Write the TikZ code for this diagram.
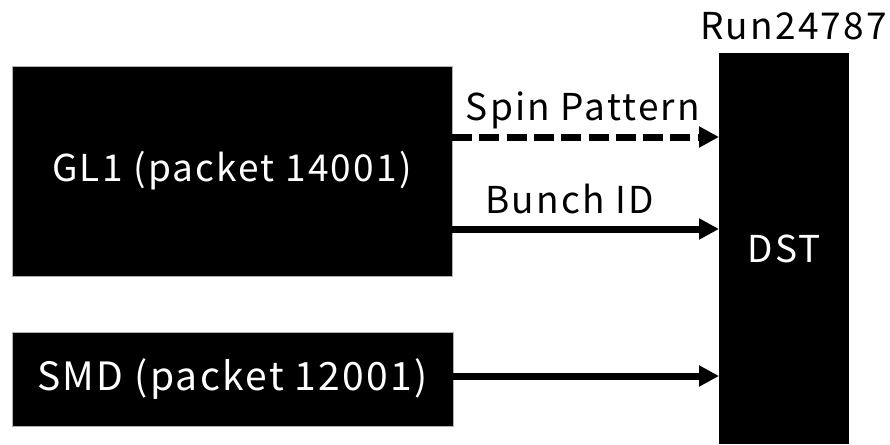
\documentclass[tikz,border=0pt]{standalone}
\usepackage{fontspec}
\setmainfont{Noto Sans CJK JP}[LetterSpace=6]
\usetikzlibrary{arrows.meta,calc}
\tikzset{
  blackbox/.style={fill=black, draw=gray!60, line width=0.8pt, inner sep=0pt, outer sep=0pt, text=white, font=\fontsize{37}{44}\selectfont},
  arr/.style={line width=7pt, -{Triangle[length=20pt,width=20pt]}},
  dasharr/.style={arr, dash pattern=on 20pt off 7.3pt},
  lbl/.style={anchor=base, inner sep=0pt, font=\fontsize{37}{44}\selectfont}
}
\begin{document}
\begin{tikzpicture}[x=1pt,y=-1pt]
\useasboundingbox (0,0) rectangle (890,444);
\node[blackbox, minimum width=440pt, minimum height=210pt] (gl1) at (232,171) {GL1 (packet 14001)};
\node[blackbox, minimum width=441pt, minimum height=94pt, font=\fontsize{39}{46}\selectfont] (smd) at (232.5,379) {SMD (packet 12001)};
\node[blackbox, draw=none, minimum width=130pt, minimum height=391pt] (dst) at (784,248.5) {DST};
\node[lbl, anchor=base east] (run) at (887,40) {Run24787};
\draw[dasharr] ([yshift=34pt]gl1.east) -- ([yshift=34pt]gl1.east -| dst.west)
  node[lbl, pos=0.49, yshift=17pt] (spin) {Spin Pattern};
\draw[arr] ([yshift=-58pt]gl1.east) -- ([yshift=-58pt]gl1.east -| dst.west)
  node[lbl, pos=0.44, yshift=16pt] (bunch) {Bunch ID};
\draw[arr] ([yshift=3pt]smd.east) -- ([yshift=3pt]smd.east -| dst.west);
\end{tikzpicture}
\end{document}
